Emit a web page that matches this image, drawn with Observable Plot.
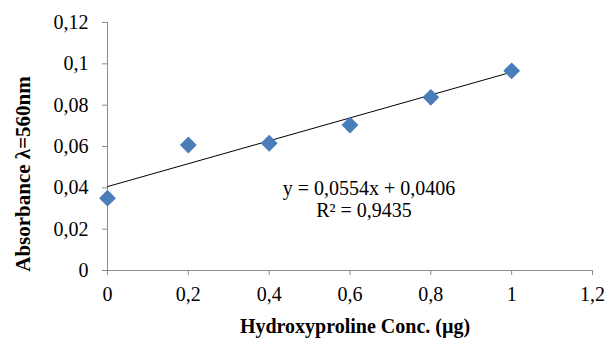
<!DOCTYPE html>
<html><head><meta charset="utf-8">
<script src="https://cdn.jsdelivr.net/npm/d3@7"></script>
<script src="https://cdn.jsdelivr.net/npm/@observablehq/plot@0.6"></script>
<style>body{margin:0;background:#fff}</style>
</head><body><div id="chart"></div>
<script>
const conc = [0, 0.2, 0.4, 0.6, 0.8, 1.0];
const absorbance = [0.035, 0.0607, 0.0616, 0.0704, 0.0838, 0.0966];
const slope = 0.0554, intercept = 0.0406;
const xTicks = [0, 0.2, 0.4, 0.6, 0.8, 1, 1.2];
const yTicks = [0, 0.02, 0.04, 0.06, 0.08, 0.1, 0.12];
const eqLines = ["y = 0,0554x + 0,0406", "R² = 0,9435"];

const pts = conc.map((x, i) => ({x, y: absorbance[i]}));
const trend = [0, 1].map(x => ({x, y: slope * x + intercept}));
const fmt = d => String(+d.toFixed(2)).replace(".", ",");
const font = "'Liberation Serif', 'Times New Roman', serif";

const chart = Plot.plot({
  width: 614, height: 340,
  marginLeft: 107, marginRight: 22, marginTop: 22, marginBottom: 70,
  style: {fontFamily: font, fontSize: "20px", color: "#000", background: "#fff", overflow: "visible"},
  x: {domain: [0, 1.2]},
  y: {domain: [0, 0.12]},
  marks: [
    Plot.ruleY([0], {stroke: "#8c8c8c"}),
    Plot.ruleX([0], {stroke: "#8c8c8c"}),
    Plot.axisX({ticks: xTicks, tickFormat: fmt, tickSize: 5, stroke: "#8c8c8c", tickPadding: 11,
      label: null}),
    Plot.axisY({ticks: yTicks, tickFormat: fmt, tickSize: 5, stroke: "#8c8c8c", tickPadding: 14,
      label: null}),
    Plot.line(trend, {x: "x", y: "y", stroke: "#000", strokeWidth: 1}),
    Plot.dot(pts, {x: "x", y: "y", symbol: "diamond2", r: 7.6, fill: "#4a7ebb", stroke: "none"})
  ]
});
const svg = d3.select(chart);
const addText = (x, y, txt, opts = {}) => {
  const t = svg.append("text").attr("x", x).attr("y", y).attr("text-anchor", "middle")
    .attr("font-family", font).attr("fill", "#000").style("font-size", (opts.size || 20) + "px")
    .text(txt);
  if (opts.bold) t.attr("font-weight", "bold");
  if (opts.transform) t.attr("transform", opts.transform).attr("x", 0).attr("y", 0);
  return t;
};
addText(369, 195, eqLines[0], {size: 20});
addText(364, 217, eqLines[1], {size: 20});
addText(355, 333, "Hydroxyproline Conc. (µg)", {size: 20, bold: true});
addText(0, 0, "Absorbance λ=560nm", {size: 21, bold: true, transform: "translate(30,174) rotate(-90)"});
document.getElementById("chart").appendChild(chart);
</script>
</body></html>
